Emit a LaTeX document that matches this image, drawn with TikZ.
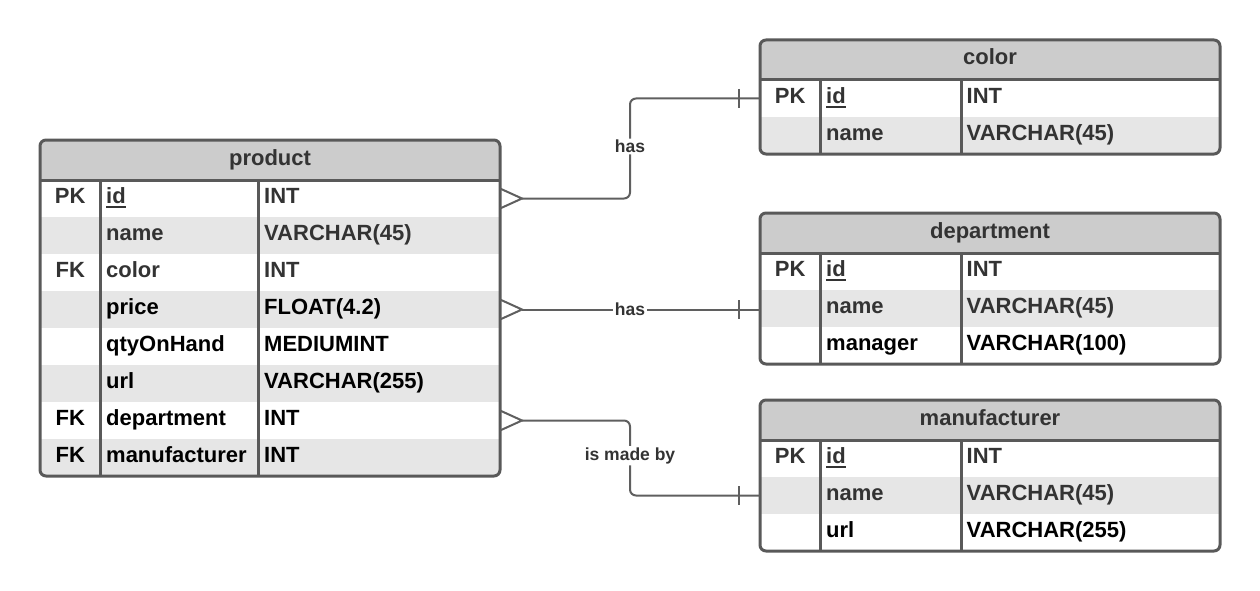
\documentclass[tikz,border=0pt]{standalone}
\usepackage{fontspec}
\setmainfont{Liberation Sans}
\usetikzlibrary{calc}
\definecolor{framegray}{HTML}{595959}
\definecolor{hdr}{HTML}{CCCCCC}
\definecolor{alt}{HTML}{E6E6E6}
\definecolor{txt}{HTML}{333333}
\definecolor{wire}{HTML}{5F5F5F}
\tikzset{
 rowbox/.style={inner sep=0pt, outer sep=0pt, minimum height=37pt, draw=none},
 celltxt/.style={inner sep=0pt, font=\fontsize{22}{26}\selectfont\bfseries, text height=16pt, text depth=0pt},
 tblframe/.style={draw=framegray, line width=3pt, rounded corners=6pt, inner sep=0pt, outer sep=0pt},
 divider/.style={draw=framegray, line width=3pt},
 conn/.style={draw=wire, line width=2pt},
 lbl/.style={fill=white, inner sep=1.5pt, text=txt, font=\fontsize{17.5}{20}\selectfont\bfseries},
}
\newcommand\idul[1]{\setbox0\hbox{#1}\rlap{\rule[-4pt]{\wd0}{2pt}}\box0}
\newcommand\settable[6]{\def\tx{#1}\def\ta{#2}\def\tb{#3}\def\tw{#4}%
 \pgfmathsetmacro\ttop{#5}\pgfmathsetmacro\thb{#5+40}\pgfmathsetmacro\tbot{#5+40+37*#6}}
\newcommand\erow[7]{%
 \node[rowbox, fill=#3, minimum width={\tw-\tx}, anchor=north west] (#1) at ({\tx},{\thb+37*(#2-1)}) {};
 \node[celltxt, text=#7] (#1k) at ({(\tx+\ta)/2},{\thb+37*(#2-1)+15.5}) {#4};
 \node[celltxt, text=#7, anchor=west] (#1f) at ({\ta+5.5},{\thb+37*(#2-1)+15.5}) {#5};
 \node[celltxt, text=#7, anchor=west] (#1t) at ({\tb+5.5},{\thb+37*(#2-1)+15.5}) {#6};
}
\newcommand\erdframe[2]{%
 \draw[divider] (\tx,\thb) -- (\tw,\thb);
 \draw[divider] (\ta,\thb) -- (\ta,\tbot);
 \draw[divider] (\tb,\thb) -- (\tb,\tbot);
 \node[tblframe, minimum width={\tw-\tx}, minimum height={\tbot-\ttop}, anchor=north west] (#1) at (\tx,\ttop) {};
 \node[celltxt, text=txt] (#1-t) at ({(\tx+\tw)/2},{\ttop+17}) {#2};
}
\begin{document}
\begin{tikzpicture}[x=1pt,y=-1pt]
\useasboundingbox (0,0) rectangle (1260,591);

% product
\settable{40}{100.5}{258.5}{500}{140}{8}
\begin{scope}
\clip[rounded corners=6pt] (\tx,\ttop) rectangle (\tw,\tbot);
\fill[hdr] (\tx,\ttop) rectangle (\tw,\thb);
\erow{p1}{1}{white}{PK}{\idul{id}}{INT}{txt}
\erow{p2}{2}{alt}{}{name}{VARCHAR(45)}{txt}
\erow{p3}{3}{white}{FK}{color}{INT}{txt}
\erow{p4}{4}{alt}{}{price}{FLOAT(4.2)}{black}
\erow{p5}{5}{white}{}{qtyOnHand}{MEDIUMINT}{black}
\erow{p6}{6}{alt}{}{url}{VARCHAR(255)}{black}
\erow{p7}{7}{white}{FK}{department}{INT}{black}
\erow{p8}{8}{alt}{FK}{manufacturer}{INT}{black}
\end{scope}
\erdframe{product}{product}

% color
\settable{760}{820.5}{961}{1220}{40}{2}
\begin{scope}
\clip[rounded corners=6pt] (\tx,\ttop) rectangle (\tw,\tbot);
\fill[hdr] (\tx,\ttop) rectangle (\tw,\thb);
\erow{c1}{1}{white}{PK}{\idul{id}}{INT}{txt}
\erow{c2}{2}{alt}{}{name}{VARCHAR(45)}{txt}
\end{scope}
\erdframe{color}{color}

% department
\settable{760}{820.5}{961}{1220}{213}{3}
\begin{scope}
\clip[rounded corners=6pt] (\tx,\ttop) rectangle (\tw,\tbot);
\fill[hdr] (\tx,\ttop) rectangle (\tw,\thb);
\erow{d1}{1}{white}{PK}{\idul{id}}{INT}{txt}
\erow{d2}{2}{alt}{}{name}{VARCHAR(45)}{txt}
\erow{d3}{3}{white}{}{manager}{VARCHAR(100)}{black}
\end{scope}
\erdframe{department}{department}

% manufacturer
\settable{760}{820.5}{961}{1220}{400}{3}
\begin{scope}
\clip[rounded corners=6pt] (\tx,\ttop) rectangle (\tw,\tbot);
\fill[hdr] (\tx,\ttop) rectangle (\tw,\thb);
\erow{f1}{1}{white}{PK}{\idul{id}}{INT}{txt}
\erow{f2}{2}{alt}{}{name}{VARCHAR(45)}{txt}
\erow{f3}{3}{white}{}{url}{VARCHAR(255)}{black}
\end{scope}
\erdframe{manufacturer}{manufacturer}

% connectors
\coordinate (mid) at (630,0);

% product -> color
\draw[conn] ($(p1.east)+(0,-10)$) -- ($(p1.east)+(22,0)$) -- ($(p1.east)+(0,10)$);
\draw[conn, rounded corners=6pt] ($(p1.east)+(22,0)$) -- (p1.east -| mid) -- node[lbl, pos=0.52] (l1) {has} (mid |- c1.west) -- (c1.west);
\draw[conn] ($(c1.west)+(-21,-9.5)$) -- ($(c1.west)+(-21,9.5)$);

% product -> department
\draw[conn] ($(p4.east)+(0,-10)$) -- ($(p4.east)+(22,0)$) -- ($(p4.east)+(0,10)$);
\draw[conn] ($(p4.east)+(22,0)$) -- node[lbl, pos=0.454] (l2) {has} (p4.east -| d2.west);
\draw[conn] ($(p4.east -| d2.west)+(-21,-9.5)$) -- ($(p4.east -| d2.west)+(-21,9.5)$);

% product -> manufacturer
\draw[conn] ($(p7.east)+(0,-10)$) -- ($(p7.east)+(22,0)$) -- ($(p7.east)+(0,10)$);
\draw[conn, rounded corners=6pt] ($(p7.east)+(22,0)$) -- (p7.east -| mid) -- node[lbl, pos=0.47] (l3) {is made by} (mid |- f2.west) -- (f2.west);
\draw[conn] ($(f2.west)+(-21,-9.5)$) -- ($(f2.west)+(-21,9.5)$);
\end{tikzpicture}
\end{document}
